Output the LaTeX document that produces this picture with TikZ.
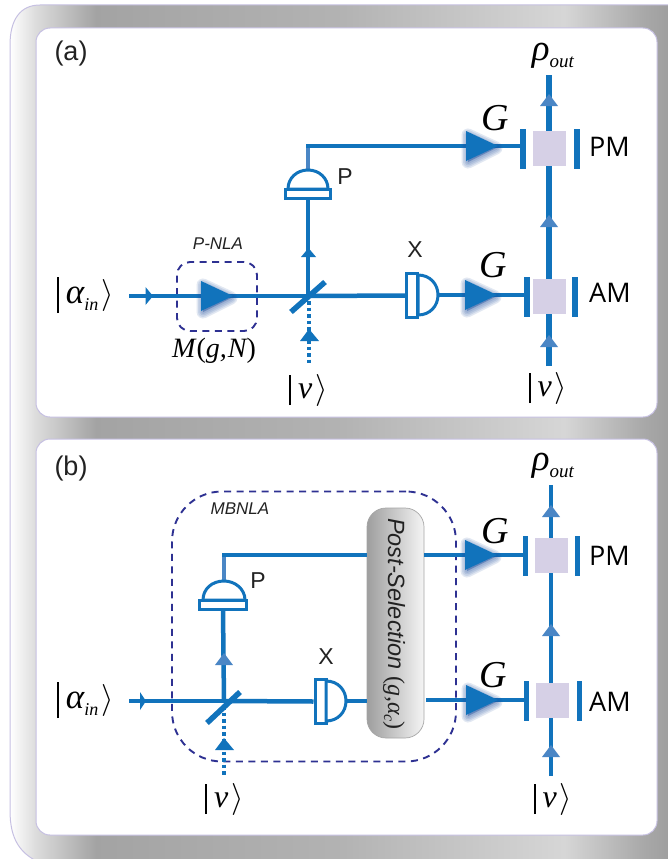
\RequirePackage{fix-cm}
\documentclass[tikz,border=0pt]{standalone}
\usepackage{fontspec}
\setsansfont{Liberation Sans}
\newfontfamily\opensans{Open Sans}
\newfontfamily\seriffont{Liberation Serif}
\definecolor{beam}{HTML}{1173BC}
\definecolor{lbeam}{HTML}{4A86C5}
\definecolor{navy}{HTML}{2E3192}
\definecolor{glow}{HTML}{1F4E9E}
\definecolor{lav}{HTML}{D6D0E6}
\definecolor{edgelav}{HTML}{C6C0E2}
\definecolor{inktext}{HTML}{222222}
\pgfdeclarehorizontalshading{bgshade}{100bp}{
 color(0bp)=(white);
 color(25bp)=(white);
 color(27bp)=(black!14);
 color(31.5bp)=(black!36);
 color(50bp)=(black!30);
 color(67bp)=(black!16);
 color(73bp)=(black!34);
 color(75bp)=(black!38);
 color(100bp)=(black!38)}
\tikzset{
 x=1pt,y=-1pt,
 beamline/.style={draw=beam,line width=4.5pt},
 thinbeam/.style={draw=beam,line width=4pt},
 dimbeam/.style={draw=lbeam,line width=4.5pt},
 dotbeam/.style={draw=beam,line width=4pt,dash pattern=on 3.5pt off 3pt},
 bar/.style={draw=beam,line width=5.5pt},
 modbox/.style={fill=lav,minimum width=33pt,minimum height=35pt,inner sep=0pt},
 plateh/.style={draw=beam,fill=white,line width=3pt,minimum width=45pt,minimum height=9pt,inner sep=0pt},
 dome/.style={draw=beam,fill=white,line width=3pt},
 dashbox/.style={draw=navy,line width=1.9pt,dash pattern=on 7pt off 5.5pt},
 panel/.style={draw=edgelav,fill=white,line width=1pt,rounded corners=14pt},
 sanslabel/.style={font=\sffamily\fontsize{23}{25}\selectfont,text=inktext,inner sep=0pt},
 pmlabel/.style={font=\opensans\fontsize{27}{29}\selectfont,text=black,inner sep=0pt,anchor=west},
 ket/.style={font=\seriffont\itshape\fontsize{32}{34}\selectfont,inner sep=0pt},
 gain/.style={font=\seriffont\itshape\fontsize{38}{40}\selectfont,inner sep=0pt},
 tag/.style={font=\sffamily\itshape\fontsize{17}{19}\selectfont,text=inktext,inner sep=0pt},
}
% #1 depth, #2 total height, #3 content
\newcommand{\kettext}[3]{\rule[-#1]{2pt}{#2}\hspace{7pt}#3\hspace{2pt}$\left.\rule[-#1]{0pt}{#2}\right\rangle$}
\newcommand{\subin}[1]{\raisebox{-7pt}{\fontsize{18}{20}\selectfont #1}}
\newcommand{\uptip}[3][lbeam]{\fill[#1] (#2-9,#3+6) -- (#2,#3-6) -- (#2+9,#3+6) -- cycle;}
\newcommand{\gainwedge}[3]{%
 \foreach \w in {13,10,7,4}{
  \draw[glow,opacity=0.13,fill,line width=\w pt,line join=round]
   (#1+2,#2-#3+4) -- (#1+30,#2+2) -- (#1+2,#2+#3+1) -- cycle;}
 \fill[beam] (#1,#2-#3) -- (#1+32,#2) -- (#1,#2+#3) -- cycle;}
\begin{document}
\begin{tikzpicture}
\useasboundingbox (0,0) rectangle (667,859);
\path[shading=bgshade,draw=edgelav,line width=1pt]
 (10,45) .. controls (10,20) and (20,5) .. (40,5) -- (670,5) -- (670,865) -- (45,865)
 .. controls (20,855) and (10,840) .. (10,810) -- cycle;
\node[panel,minimum width=621pt,minimum height=389pt,inner sep=0pt] (panelA) at (346.5,222.5) {};
\node[panel,minimum width=621pt,minimum height=396pt,inner sep=0pt] (panelB) at (346.5,637) {};
\node[sanslabel,font=\sffamily\fontsize{27}{29}\selectfont] (tagA) at (71,54) {(a)};
\node[sanslabel,font=\sffamily\fontsize{27}{29}\selectfont] (tagB) at (71,469) {(b)};

% ---------- panel (a)
\coordinate (aIn) at (129,296);
\coordinate (aBS) at (308,296);
\coordinate (aVin) at (309,366);
\coordinate (aBar) at (523,146);
\coordinate (aBarX) at (527,295);
\coordinate (aOutT) at (549,75);
\coordinate (aOutB) at (549,366);
\node[dashbox,minimum width=80pt,minimum height=69pt,rounded corners=13pt,inner sep=0pt] (aNLA) at (217,296.5) {};
\path[beamline] (aIn) -- (aBS);
\fill[beam] (145.5,287) -- (153,296) -- (145.5,305) -- cycle;
\gainwedge{201}{296}{15}
\node[plateh] (aP) at (308,194) {};
\coordinate (aPtop) at (308,170);
\path[dimbeam] (aPtop) -- (308,146);
\path[dome] (288,189) .. controls (288,178) and (297,170) .. (aPtop) .. controls (319,170) and (328,178) .. (328,189) -- cycle;
\path[beamline] (aBS) -- (aP.south);
\path[beamline] (306,146) -- (aBar);
\fill[beam] (301,257) -- (308.5,248) -- (316,257) -- cycle;
\path[bar] (291,312) -- (325,282);
\path[dotbeam] (aBS)++(1,5) -- (aVin);
\fill[beam] (300,341) -- (309,329) -- (319,341) -- cycle;
\node[plateh,minimum width=11pt,minimum height=44pt] (aX) at (412,295.5) {};
\path[beamline] (aBS) -- (aX.west);
\path[dome] (418,275) .. controls (430,275) and (438,284) .. (438,295) .. controls (438,306) and (430,315) .. (418,315) -- cycle;
\coordinate (aXr) at (438,295);
\path[thinbeam] (aXr) -- (aBarX);
\gainwedge{466}{146}{15}
\gainwedge{465}{295}{15}
\path[beamline,line width=5.5pt] (aOutB) -- (aOutT);
\node[modbox] (aPM) at (549.5,148.5) {};
\node[modbox] (aAM) at (549.5,296.5) {};
\path[bar] (523,129) -- (523,169);
\path[bar] (577,129) -- (577,169);
\path[bar] (527,277) -- (527,317);
\path[bar] (575,277) -- (575,317);
\uptip{549}{100}
\uptip{549}{221}
\uptip{549}{341}
\node[gain] (aG1) at (495,118) {G};
\node[gain] (aG2) at (493,265) {G};
\node[pmlabel] (aPMt) at (589,146.5) {PM};
\node[pmlabel] (aAMt) at (589,293) {AM};
\node[sanslabel] (aPl) at (345,177) {P};
\node[sanslabel] (aXl) at (415,250) {X};
\node[tag] (aNLAt) at (218,244) {P-NLA};
\node[font=\seriffont\itshape\fontsize{28}{30}\selectfont,inner sep=0pt] (aM) at (214,351) {M\hspace{1pt}{\upshape(}g,\hspace{1pt}N{\upshape)}};
\node[ket] (aAlpha) at (85.5,295) {\kettext{10pt}{36pt}{{\fontsize{35}{36}\selectfont α}\subin{in}}};
\node[ket] (aV1) at (308.5,390) {\kettext{7pt}{30pt}{ν}};
\node[ket] (aV2) at (548,388) {\kettext{7pt}{30pt}{ν}};
\node[ket,font=\seriffont\itshape\fontsize{37}{39}\selectfont] (aRho) at (553,56) {ρ\subin{\fontsize{19}{20}\selectfont out}};

% ---------- panel (b)
\coordinate (bIn) at (129,701);
\coordinate (bBS) at (224,701);
\coordinate (bVin) at (224,776);
\coordinate (bBar) at (525,555);
\coordinate (bBarX) at (526,700);
\coordinate (bOutT) at (551,485);
\coordinate (bOutB) at (551,776);
\node[dashbox,minimum width=284pt,minimum height=270pt,rounded corners=50pt,inner sep=0pt] (bMB) at (314,626.5) {};
\path[beamline] (bIn) -- (bBS);
\fill[beam] (140,692) -- (146,701) -- (140,710) -- cycle;
\node[plateh,minimum width=47pt] (bP) at (223,605) {};
\coordinate (bPtop) at (224,581);
\path[dimbeam] (bPtop) -- (224,555);
\path[dome] (203,600) .. controls (203,589) and (212,581) .. (bPtop) .. controls (235,581) and (245,589) .. (245,600) -- cycle;
\path[beamline] (bBS) -- (bP.south);
\path[bar] (207,723) -- (240,692);
\uptip{224}{659}
\path[dotbeam] (bBS)++(0,5) -- (bVin);
\fill[beam] (215,750) -- (224,738) -- (234,750) -- cycle;
\node[plateh,minimum width=11pt,minimum height=44pt] (bX) at (320.5,701.5) {};
\path[beamline] (bBS) -- (bX.west);
\path[dome] (326,681) .. controls (338,681) and (346,690) .. (346,701) .. controls (346,712) and (338,721) .. (326,721) -- cycle;
\node[draw=black!35,line width=0.7pt,left color=black!38,right color=black!4,rounded corners=19pt,minimum width=57pt,minimum height=230pt,inner sep=0pt] (bPS) at (395.5,623) {};
\node[rotate=-90,inner sep=0pt,text=inktext,font=\sffamily\itshape\fontsize{23.5}{25}\selectfont] (bPSt) at (394,624) {Post-Selection {\seriffont\upshape\fontsize{24}{25}\selectfont(}{\seriffont\fontsize{24}{25}\selectfont g,α\raisebox{-4pt}{\fontsize{16}{17}\selectfont c}}{\seriffont\upshape\fontsize{24}{25}\selectfont)}};
\coordinate (bXr) at (346,701);
\path[beamline] (222,555) -- (bPS.west |- 222,555);
\path[thinbeam] (bXr) -- (bPS.west |- bXr);
\path[beamline] (bPS.east |- bBar) -- (bBar);
\path[beamline] (bPS.east |- bBarX) ++(2,0) -- (bBarX);
\gainwedge{465}{555}{15}
\gainwedge{466}{700}{15}
\path[beamline] (bOutB) -- (bOutT);
\node[modbox] (bPM) at (551.5,555.5) {};
\node[modbox] (bAM) at (552.5,700.5) {};
\path[bar] (525.5,536) -- (525.5,576);
\path[bar] (577.5,536) -- (577.5,576);
\path[bar] (526.5,681) -- (526.5,721);
\path[bar] (579.5,681) -- (579.5,721);
\uptip{551}{511}
\uptip{551}{630}
\uptip{551}{751}
\node[gain] (bG1) at (495,531) {G};
\node[gain] (bG2) at (493,675) {G};
\node[pmlabel] (bPMt) at (589,556) {PM};
\node[pmlabel] (bAMt) at (589,702) {AM};
\node[sanslabel] (bPl) at (258,581) {P};
\node[sanslabel] (bXl) at (326,657) {X};
\node[tag] (bMBt) at (240,509) {MBNLA};
\node[ket] (bAlpha) at (85.5,700) {\kettext{10pt}{36pt}{{\fontsize{35}{36}\selectfont α}\subin{in}}};
\node[ket] (bV1) at (224.5,799) {\kettext{7pt}{30pt}{ν}};
\node[ket] (bV2) at (553,799) {\kettext{7pt}{30pt}{ν}};
\node[ket,font=\seriffont\itshape\fontsize{37}{39}\selectfont] (bRho) at (553,466) {ρ\subin{\fontsize{19}{20}\selectfont out}};
\end{tikzpicture}
\end{document}
